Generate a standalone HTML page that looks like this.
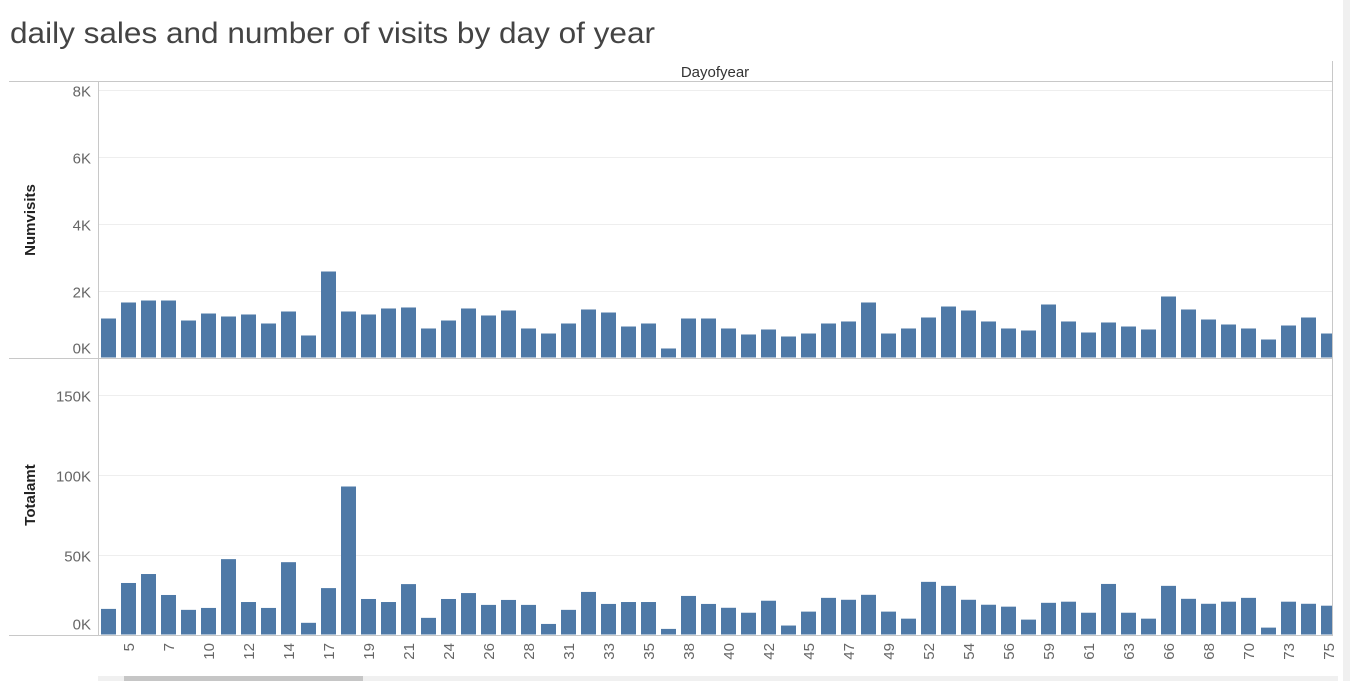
<!DOCTYPE html>
<html><head><meta charset="utf-8"><style>
html,body{margin:0;padding:0;background:#fff;}
svg{display:block;font-family:"Liberation Sans",sans-serif;}
</style></head><body>
<svg id="chart" width="1350" height="681" viewBox="0 0 1350 681">
<defs><clipPath id="plotclip"><rect x="99" y="82" width="1233" height="560"/></clipPath></defs>
<text x="10" y="43" font-size="30" fill="#444" textLength="645" lengthAdjust="spacingAndGlyphs">daily sales and number of visits by day of year</text>
<rect x="1343" y="0" width="7" height="681" fill="#f0f0f0"/>
<line x1="1332.5" y1="61" x2="1332.5" y2="635" stroke="#c8c8c8"/>
<line x1="9" y1="81.5" x2="1333" y2="81.5" stroke="#c8c8c8"/>
<text x="715" y="77" font-size="15" fill="#333" text-anchor="middle">Dayofyear</text>
<g id="grid"></g>
<g id="bars" clip-path="url(#plotclip)"></g>
<line x1="98.5" y1="82" x2="98.5" y2="635" stroke="#c8c8c8"/>
<line x1="9" y1="358.5" x2="1333" y2="358.5" stroke="#c8c8c8"/>
<line x1="9" y1="635.5" x2="1333" y2="635.5" stroke="#c8c8c8"/>
<text transform="translate(35,220) rotate(-90)" font-size="15" font-weight="bold" fill="#222" text-anchor="middle">Numvisits</text>
<text transform="translate(35,495) rotate(-90)" font-size="15" font-weight="bold" fill="#222" text-anchor="middle">Totalamt</text>
<g id="xlabels"></g>
<rect x="98" y="676" width="1240" height="5" fill="#f0f0f0"/>
<rect x="124" y="676" width="239" height="5" fill="#c6c6c6"/>
</svg>
<script>
const days = [4,5,6,7,8,10,11,12,13,14,15,17,18,19,20,21,22,24,25,26,27,28,29,31,32,33,34,35,36,38,39,40,41,42,43,45,46,47,48,49,50,52,53,54,55,56,57,59,60,61,62,63,64,66,67,68,69,70,71,73,74,75];
const numVisits = [1164,1642,1701,1701,1104,1313,1224,1284,1015,1373,657,2567,1373,1284,1463,1493,866,1104,1463,1254,1403,866,716,1015,1433,1343,925,1015,269,1164,1164,866,687,836,627,716,1015,1075,1642,716,866,1194,1522,1403,1075,866,806,1582,1075,746,1045,925,836,1821,1433,1134,985,866,537,955,1194,716];
const totalAmt = [16000,32200,37800,24700,15400,16600,47100,20300,16600,45200,7300,29000,92500,22200,20300,31500,10400,22200,25900,18500,21600,18500,6600,15400,26600,19100,20300,20300,3500,24100,19100,16700,13600,21100,5600,14300,22900,21700,24800,14300,9900,32900,30400,21700,18600,17400,9300,19800,20500,13600,31600,13600,9900,30400,22300,19200,20500,22900,4300,20500,19200,18000];
const visitTicks = [0,2000,4000,6000,8000];
const visitTickLabels = ["0K","2K","4K","6K","8K"];
const amtTicks = [0,50000,100000,150000];
const amtTickLabels = ["0K","50K","100K","150K"];

const NS = "http://www.w3.org/2000/svg";
function xPos(i){ return 101 + 20*i; }
function yVisits(v){ return 357.5 - v/2000*67; }
function yAmt(v){ return 634.5 - v/50000*80; }
function mk(tag, attrs, parent){ const e=document.createElementNS(NS,tag); for(const k in attrs) e.setAttribute(k,attrs[k]); parent.appendChild(e); return e; }
const grid=document.getElementById('grid'), bars=document.getElementById('bars'), xl=document.getElementById('xlabels');

visitTicks.forEach((t,i)=>{
  const y=Math.round(yVisits(t))+0.5;
  if(t>0){ const l=mk('line',{x1:99,x2:1332,y1:y,y2:y,stroke:'#eeeeee'},grid);
    
     }
  const tx=mk('text',{x:91,y:(t===0?y-5:y+6),'font-size':15,fill:'#666','text-anchor':'end'},grid);
  tx.textContent=visitTickLabels[i];
  
  
});
amtTicks.forEach((t,i)=>{
  const y=Math.round(yAmt(t))+0.5;
  if(t>0){ const l=mk('line',{x1:99,x2:1332,y1:y,y2:y,stroke:'#eeeeee'},grid);
    
     }
  const tx=mk('text',{x:91,y:(t===0?y-6:y+6),'font-size':15,fill:'#666','text-anchor':'end'},grid);
  tx.textContent=amtTickLabels[i];
  
  
});
days.forEach((d,i)=>{
  const x=xPos(i);
  const y1=yVisits(numVisits[i]);
  const b1=mk('rect',{x:x,y:y1,width:15,height:357.5-y1,fill:'#4e79a7'},bars);
  
  
  const y2=yAmt(totalAmt[i]);
  const b2=mk('rect',{x:x,y:y2,width:15,height:634.5-y2,fill:'#4e79a7'},bars);
  
  
  if(i%2===1){
    const t=mk('text',{transform:'translate('+(x+13)+',643) rotate(-90)','font-size':15,fill:'#666','text-anchor':'end'},xl);
    t.textContent=d;
    
    
  }
});
</script>
</body></html>
